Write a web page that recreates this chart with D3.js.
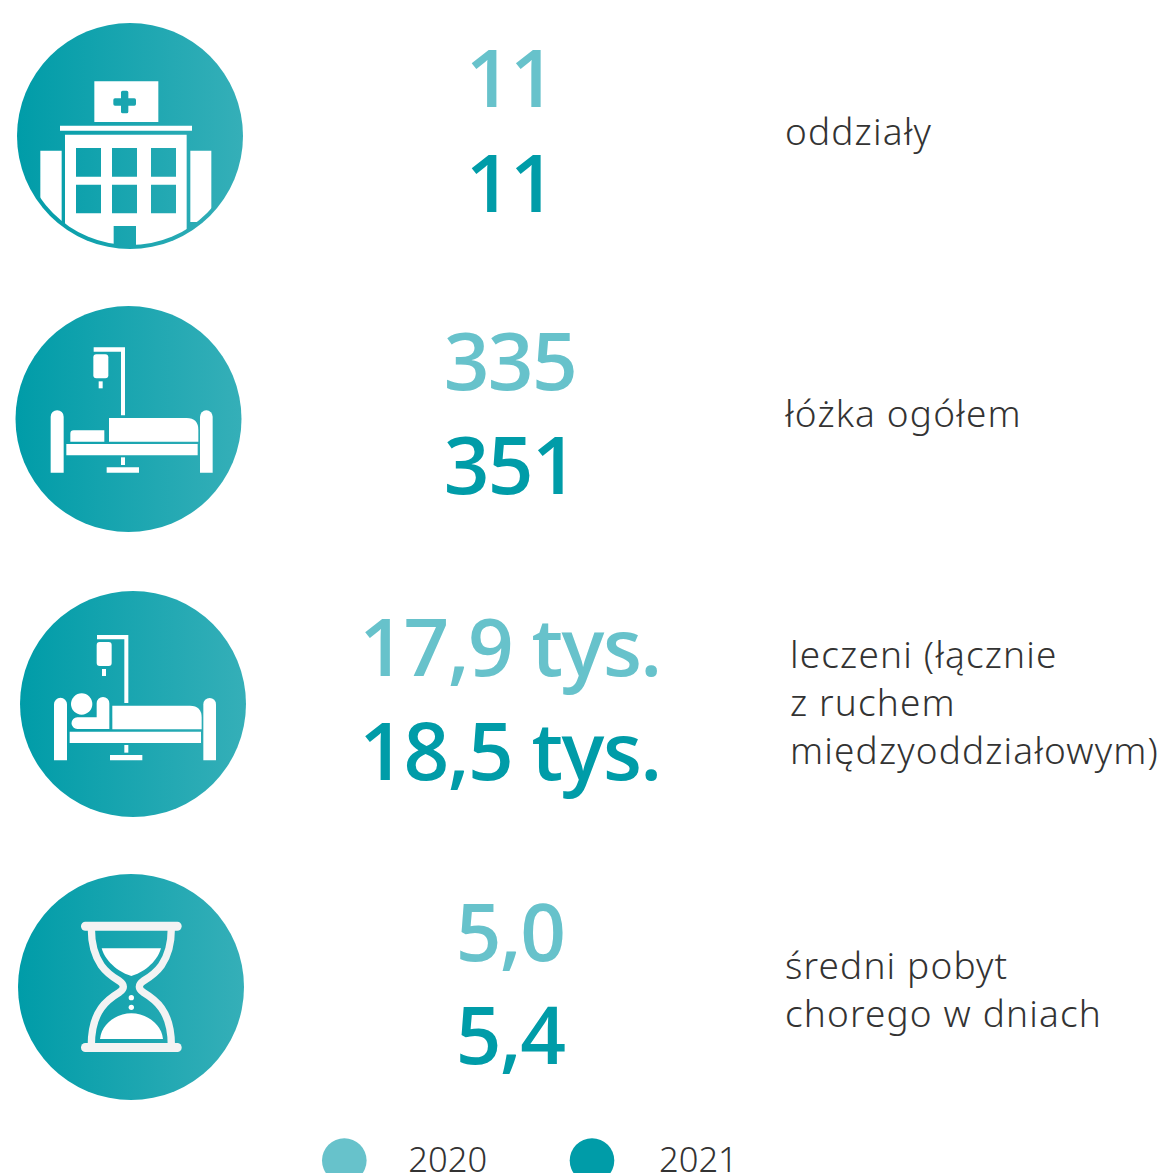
<!DOCTYPE html>
<html lang="pl">
<head>
<meta charset="utf-8">
<script src="https://cdn.jsdelivr.net/npm/d3@7"></script>
<style>
html, body { margin: 0; padding: 0; background: #fff; overflow: hidden; }
svg { display: block; }
.num { font-family: "Open Sans", sans-serif; font-weight: 600; font-size: 80px; letter-spacing: -1.5px; text-anchor: middle; }
.lab { font-family: "Noto Sans", sans-serif; font-weight: 300; font-size: 37px; fill: #333; letter-spacing: 1.15px; }
.leg { font-family: "Noto Sans", sans-serif; font-weight: 300; font-size: 34.5px; fill: #333; }
</style>
</head>
<body>
<script>
// data
const rowKeys = ['oddzialy', 'lozka', 'leczeni', 'pobyt'];
const values2020 = ['11', '335', '17,9 tys.', '5,0'];
const values2021 = ['11', '351', '18,5 tys.', '5,4'];
const rowLabels = [
    ['oddziały'],
    ['łóżka ogółem'],
    ['leczeni (łącznie', 'z ruchem', 'międzyoddziałowym)'],
    ['średni pobyt', 'chorego w dniach']
];
const legendYears = ['2020', '2021'];

const width = 1164, height = 1173;
const color2020 = '#67c2cb', color2021 = '#009ca8';

// layout, the rows are not perfectly evenly spaced in the original
const iconX = [130, 128.5, 133, 131];
const iconY = [136, 419, 704, 987];
const base2020 = [107, 390, 676, 961];
const base2021 = [212, 494, 780, 1064];
const labelX = [785, 785, 790, 785];
const labelY = [145, 427, 668, 979];
const numX = 510;
const iconR = 113;

const svg = d3.select('body').append('svg')
    .attr('width', width)
    .attr('height', height);

const defs = svg.append('defs');
const grad = defs.append('linearGradient').attr('id', 'disc');
grad.append('stop').attr('offset', '0%').attr('stop-color', '#009ca8');
grad.append('stop').attr('offset', '100%').attr('stop-color', '#35afb8');

defs.append('clipPath').attr('id', 'innerDisc')
    .append('circle').attr('r', 109);

const rows = rowKeys.map((k, i) => ({
    key: k, v2020: values2020[i], v2021: values2021[i], lines: rowLabels[i], i: i
}));

// icon shapes are traced at 3x, centred on the disc
const rect = (x0, y0, x1, y1) => `M${x0},${y0}H${x1}V${y1}H${x0}Z`;

function drawHospital(g) {
    const cx = 390, cy = 379;
    const art = g.append('g').attr('clip-path', 'url(#innerDisc)')
        .append('g').attr('transform', `scale(${1 / 3}) translate(${-cx},${-cy})`)
        .attr('fill', '#fff');
    // sign with the cross cut out
    art.append('path').attr('fill-rule', 'evenodd')
        .attr('d', rect(283, 215, 475, 337) +
            'M363,248a5,5 0 0 1 5,-5h12a5,5 0 0 1 5,5v18h18a5,5 0 0 1 5,5v12a5,5 0 0 1 -5,5h-18v18a5,5 0 0 1 -5,5h-12a5,5 0 0 1 -5,-5v-18h-18a5,5 0 0 1 -5,-5v-12a5,5 0 0 1 5,-5h18Z');
    art.append('path').attr('d', rect(180, 348, 576, 363));
    art.append('path').attr('d', rect(121, 423, 185, 720));
    art.append('path').attr('d', rect(571, 423, 634, 637));
    // building, windows and door are holes
    let body = rect(195, 375, 560, 730);
    [[228, 303], [336, 411], [453, 528]].forEach(c => {
        body += rect(c[0], 415, c[1], 501) + rect(c[0], 525, c[1], 611);
    });
    body += rect(341, 649, 408, 730);
    art.append('path').attr('fill-rule', 'evenodd').attr('d', body);
}

function drawBed(g, withPerson) {
    // the bed with the patient sits a bit lower on its disc
    const shift = withPerson ? 'translate(-389,-364)' : 'translate(-385.5,-372)';
    const art = g.append('g')
        .attr('transform', `scale(${1 / 3}) ${shift}`)
        .attr('fill', '#fff');
    // posts
    art.append('path').attr('d', 'M152,533V365a19.5,19.5 0 0 1 39,0V533Z');
    art.append('path').attr('d', 'M600,533V365a19,19 0 0 1 38,0V533Z');
    // frame, leg, foot
    art.append('path').attr('d', rect(199, 447, 593, 481));
    art.append('path').attr('d', rect(363, 487, 375, 510));
    art.append('path').attr('d', rect(320, 517, 417, 533));
    // blanket
    art.append('path').attr('d', 'M327,369H560Q595,369 595,405V440H327Z');
    // drip stand and bag
    art.append('path').attr('d', 'M281,157H375V361H363V170H281Z');
    art.append('rect').attr('x', 280).attr('y', 178).attr('width', 45).attr('height', 72).attr('rx', 9);
    art.append('path').attr('d', rect(296, 259, 308, 280));
    if (withPerson) {
        art.append('circle').attr('cx', 235).attr('cy', 364).attr('r', 32);
        art.append('path').attr('d', 'M222,404H280V362a19,19 0 0 1 38,0V439H222a17.5,17.5 0 0 1 0,-35Z');
    } else {
        art.append('path').attr('d', 'M211,440V416Q211,406 221,406H313V440Z');
    }
}

function drawHourglass(g) {
    const art = g.append('g')
        .attr('transform', `scale(${1 / 3}) translate(-393,-366)`);
    const frame = art.append('g').attr('fill', '#f3f3f3');
    frame.append('rect').attr('x', 243).attr('y', 170).attr('width', 302).attr('height', 27).attr('rx', 13);
    frame.append('rect').attr('x', 243).attr('y', 534).attr('width', 302).attr('height', 27).attr('rx', 13);
    art.append('path')
        .attr('fill', 'none').attr('stroke', '#f3f3f3').attr('stroke-width', 22)
        .attr('d', 'M274,190C274,295 325,328 358,348Q382,365 358,382C325,402 274,435 274,540' +
            'M514,190C514,295 463,328 430,348Q406,365 430,382C463,402 514,435 514,540');
    const sand = art.append('g').attr('fill', '#fff');
    sand.append('path').attr('d', 'M305,250H483C470,295 425,325 394,333C363,325 318,295 305,250Z');
    sand.append('path').attr('d', 'M300,522C305,475 350,445 394,445C438,445 484,475 489,522Z');
    sand.append('circle').attr('cx', 394).attr('cy', 398).attr('r', 8);
    sand.append('circle').attr('cx', 394).attr('cy', 427).attr('r', 8);
}

const iconFns = {
    oddzialy: drawHospital,
    lozka: g => drawBed(g, false),
    leczeni: g => drawBed(g, true),
    pobyt: drawHourglass
};

const row = svg.selectAll('g.row')
    .data(rows)
    .join('g')
    .attr('class', 'row');

const icon = row.append('g')
    .attr('transform', d => `translate(${iconX[d.i]},${iconY[d.i]})`);
icon.append('circle').attr('r', iconR).attr('fill', 'url(#disc)');
icon.each(function (d) { iconFns[d.key](d3.select(this)); });

row.append('text').attr('class', 'num')
    .attr('x', numX)
    .attr('y', d => base2020[d.i])
    .attr('fill', color2020)
    .text(d => d.v2020);
row.append('text').attr('class', 'num')
    .attr('x', numX)
    .attr('y', d => base2021[d.i])
    .attr('fill', color2021)
    .text(d => d.v2021);

row.each(function (d) {
    d3.select(this).selectAll('text.lab')
        .data(d.lines)
        .join('text')
        .attr('class', 'lab')
        .attr('x', labelX[d.i])
        .attr('y', (l, j) => labelY[d.i] + j * 48)
        .text(l => l);
});

// legend
const legendScale = d3.scalePoint().domain(legendYears).range([344.3, 592]);
const legend = svg.selectAll('g.legend')
    .data(legendYears)
    .join('g')
    .attr('class', 'legend')
    .attr('transform', d => `translate(${legendScale(d)},1160.5)`);
legend.append('circle')
    .attr('r', 22.3)
    .attr('fill', (d, i) => i ? color2021 : color2020);
legend.append('text')
    .attr('class', 'leg')
    .attr('x', (d, i) => i ? 67 : 64)
    .attr('y', 11.5)
    .text(d => d);
</script>
</body>
</html>
